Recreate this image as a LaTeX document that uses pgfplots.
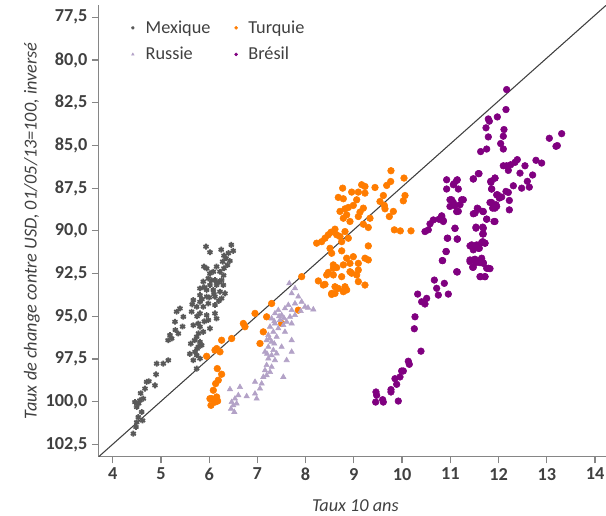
\documentclass[border=0pt]{standalone}
\usepackage{fontspec}
\setmainfont{Carlito}
\usepackage{pgfplots}
\pgfplotsset{compat=1.18}
\definecolor{mexc}{HTML}{595959}
\definecolor{turc}{HTML}{FF7C00}
\definecolor{rusc}{HTML}{B3A2C7}
\definecolor{brec}{HTML}{800080}
\definecolor{axc}{HTML}{868686}
\definecolor{txtc}{HTML}{404040}
\begin{document}
\begin{tikzpicture}
\begin{axis}[
  scale only axis, width=380.5pt, height=338.8pt,
  xmin=3.7097, xmax=14.228, ymin=76.78, ymax=103.22, y dir=reverse,
  axis x line*=bottom, axis y line*=left,
  axis line style={axc, line width=0.9pt},
  xtick={4,5,...,14}, ytick={77.5,80,82.5,85,87.5,90,92.5,95,97.5,100,102.5},
  tick align=outside, major tick length=5pt, tick style={axc, line width=0.9pt},
  /pgf/number format/assume math mode=true,
  tick label style={font=\fontsize{13.7}{16}\selectfont\bfseries, text=txtc},
  yticklabel style={/pgf/number format/.cd, fixed, fixed zerofill, precision=1, use comma},
  xlabel={Taux 10 ans},
  ylabel={Taux de change contre USD, 01/05/13=100, inversé},
  label style={font=\fontsize{13.7}{16}\selectfont\itshape, text=txtc},
  xlabel style={at={(axis description cs:0.506,-0.1087)}, anchor=center},
  ylabel style={at={(axis description cs:-0.1315,0.5)}, anchor=center},
  legend columns=2, legend cell align=left,
  legend style={draw=none, fill=none, at={(axis description cs:0.052,0.978)}, anchor=north west,
    font=\fontsize{13.7}{16}\selectfont, text=txtc,
    /tikz/every even column/.append style={column sep=15pt}, row sep=5pt},
  legend image code/.code={\path (-2pt,0pt) (7pt,0pt); \draw[#1] plot coordinates {(0pt,0pt)};},
  legend image post style={mark size=1.1pt},
  clip=true,
]
% Mexique
\addplot[only marks, mark=asterisk, mark size=2.2pt, line width=1.3pt, color=mexc] coordinates {
(5.935,90.92)(6.46,90.82)(6.50,91.17)(6.017,91.25)(6.308,91.45)(6.35,91.60)(6.28,91.80)(6.43,91.76)
(5.893,92.09)(6.155,92.09)(6.308,92.19)(6.017,92.49)(6.087,92.39)(6.225,92.39)(5.983,92.78)(6.121,92.88)
(6.259,92.88)(5.879,92.97)(6.017,93.17)(6.155,93.17)(6.294,93.17)(5.810,93.37)(5.948,93.46)(6.087,93.46)
(6.225,93.56)(6.328,93.66)(5.810,93.76)(5.948,93.85)(6.121,93.85)(6.259,93.95)(5.672,94.05)(5.810,94.15)
(5.983,94.25)(6.121,94.34)(5.879,94.44)(5.741,94.44)(5.395,94.54)(5.326,94.73)(5.637,94.73)(5.810,94.83)
(5.948,94.93)(6.121,94.83)(5.465,95.03)(5.292,95.32)(5.776,95.42)(5.672,95.52)(5.983,95.22)(6.155,95.13)
(5.810,95.61)(6.017,95.71)(5.879,95.91)(5.188,96.10)(5.361,96.01)(5.223,96.30)(5.741,96.20)(5.810,96.50)
(5.776,96.79)(5.845,96.69)(5.707,97.08)(5.741,97.28)(5.672,97.57)(5.810,97.47)(5.741,98.06)(4.912,97.77)
(5.050,97.77)(5.154,97.57)(4.704,98.84)(4.877,99.04)(4.670,99.23)(4.635,99.82)(4.462,100.02)(4.566,99.92)
(4.497,100.31)(4.601,100.60)(4.532,100.90)(4.483,101.48)(4.428,101.87)
(5.95,92.2)(6.05,92.9)(6.2,93.0)(6.1,93.7)(5.9,93.3)(6.3,92.6)(5.85,94.0)(6.0,93.9)(6.2,94.1)(5.75,95.0)
(5.9,95.3)(5.65,94.3)(6.4,91.3)(6.38,92.0)(6.25,91.1)(5.78,96.0)(5.7,96.4)(5.62,96.6)(5.6,97.2)(5.75,96.9)
(4.75,98.8)(4.9,98.4)(4.58,99.5)(4.54,100.1)(4.62,101.1)(4.5,101.2)(5.45,95.6)(5.3,95.8)(5.15,96.4)
};
\addlegendentry{Mexique}
% Turquie
\addplot[only marks, mark=*, mark size=2.5pt, color=turc] coordinates {
(7.918,92.68)(7.849,94.64)(7.296,94.25)(7.192,95.03)(6.951,94.83)(7.503,95.42)(7.123,95.91)(6.709,95.42)
(6.743,95.61)(6.467,96.30)(7.054,96.59)(6.259,96.40)(6.156,96.89)(6.225,97.08)(6.121,96.98)(5.948,97.34)
(6.169,98.06)(6.259,98.39)(6.190,98.74)(6.135,98.94)(6.087,99.33)(6.052,99.82)(6.156,99.72)(6.017,99.82)
(6.121,100.02)(6.038,100.21)(6.176,99.96)
(9.770,86.48)(10.040,86.91)(9.764,87.11)(9.681,87.34)(9.439,87.46)(9.162,87.30)(9.231,87.40)(8.768,87.50)
(8.955,87.73)(9.093,87.73)(9.231,87.79)(8.678,88.04)(8.782,88.12)(9.059,88.18)(10.061,87.93)(10.026,88.24)
(9.612,87.93)(9.542,88.28)(9.632,88.51)(9.646,88.71)(9.819,88.86)(9.736,89.16)(8.989,88.51)(8.886,88.63)
(8.817,88.71)(9.197,88.67)(9.128,88.90)(8.713,88.86)(9.093,89.16)(8.851,89.06)(8.782,89.26)(8.920,89.45)
(9.197,89.61)(9.300,89.80)(9.335,89.26)(9.840,89.94)(9.964,90.00)(10.185,90.00)(8.609,89.90)(8.526,90.08)
(8.471,90.23)(8.402,90.43)(8.229,90.72)(8.333,90.63)(8.644,90.23)(8.713,90.33)(8.817,90.04)(8.886,90.43)
(8.748,90.63)(8.506,91.02)(8.540,91.31)(8.748,91.17)(9.300,90.88)(8.851,91.60)(8.989,91.51)(9.231,91.60)
(9.300,91.70)(8.575,91.99)(8.644,92.15)(8.782,91.99)(8.920,91.90)(9.093,91.90)(8.471,92.43)(8.437,92.58)
(8.575,92.58)(8.748,92.68)(8.920,92.39)(9.093,92.29)(9.059,92.58)(9.093,92.97)(8.264,92.93)(8.402,93.13)
(8.609,93.27)(8.678,93.37)(8.817,93.27)(8.851,93.46)(8.782,93.56)(9.231,93.17)(8.540,93.72)(8.609,93.66)
(8.367,93.17)(8.575,92.19)(8.540,93.66)(8.955,92.48)
};
\addlegendentry{Turquie}
% Russie
\addplot[only marks, mark=triangle*, mark size=2.3pt, color=rusc] coordinates {
(7.662,93.07)(7.780,93.36)(7.711,93.66)(7.849,93.85)(7.918,94.15)(7.780,94.25)(7.642,94.34)(7.987,94.44)
(8.160,94.60)(7.572,94.54)(7.434,94.64)(7.711,94.64)(7.365,94.83)(7.503,94.93)(7.676,95.03)(7.780,94.93)
(7.296,95.13)(7.469,95.22)(7.607,95.32)(7.365,95.42)(7.538,95.52)(7.711,95.42)(7.262,95.61)(7.434,95.71)
(7.331,95.91)(7.572,95.91)(7.227,96.10)(7.400,96.20)(7.192,96.40)(7.296,96.49)(7.711,96.40)(7.503,96.79)
(7.227,96.79)(7.331,96.98)(7.158,97.08)(7.400,97.18)(7.296,97.28)(7.711,97.08)(7.227,97.47)(7.365,97.57)
(7.607,97.57)(7.192,97.86)(7.296,97.96)(7.158,98.16)(7.262,98.26)(7.192,98.45)(7.538,98.55)(7.123,98.55)
(7.089,98.94)(7.054,99.23)(6.951,98.84)(6.951,99.53)(6.985,99.82)(6.639,99.14)(6.432,99.27)(6.605,99.62)
(6.778,99.68)(6.536,99.82)(6.467,100.02)(6.501,100.21)(6.453,100.41)(6.522,100.60)(6.570,100.11)
(8.05,94.5)(7.9,94.7)(7.45,95.0)(7.55,95.1)(7.35,95.3)(7.25,96.3)(7.35,96.6)(7.2,97.2)
};
\addlegendentry{Russie}
% Bresil
\addplot[only marks, mark=*, mark size=2.5pt, color=brec] coordinates {
(10.924,87.01)(11.132,87.05)(11.063,87.30)(11.166,87.55)(10.924,87.55)(11.477,86.95)(11.595,86.65)(11.926,86.91)
(11.843,87.16)(11.857,87.55)(11.982,87.89)(12.065,88.02)(11.857,88.34)(11.961,88.57)(11.926,88.67)(11.581,88.73)
(11.685,88.87)(11.512,88.96)(11.754,89.32)(11.926,89.45)(10.993,88.18)(11.063,88.34)(11.201,88.47)(11.270,88.18)
(11.132,88.87)(10.821,89.12)(10.765,89.32)(10.855,89.45)(10.648,89.36)(10.579,89.59)(10.544,89.94)(10.475,90.04)
(11.097,89.86)(10.945,90.43)(11.145,90.47)(11.532,89.84)(11.685,89.84)(11.685,90.18)(11.408,90.88)(11.512,90.92)
(11.650,90.68)(11.719,90.72)(11.477,91.11)(11.581,91.02)(11.408,91.70)(11.512,91.66)(11.650,91.60)(11.477,92.13)
(11.615,91.86)(11.685,91.90)(11.754,92.19)(11.823,92.21)(11.615,92.68)(11.719,92.68)(10.917,91.21)(10.834,91.74)
(11.145,92.41)(10.669,92.88)(10.717,93.36)(10.876,93.07)(10.959,93.70)(10.752,93.76)(10.323,93.70)(10.406,94.15)
(10.510,93.95)(10.475,94.28)(10.268,95.03)(10.254,95.73)(10.392,97.04)(10.129,97.63)(10.150,97.81)(10.026,98.20)
(9.991,98.20)(9.957,98.55)(9.853,98.65)(9.888,98.98)(9.770,99.29)(9.770,99.43)(9.459,99.43)(9.473,99.62)
(9.452,100.02)(9.597,99.88)(9.611,100.02)(9.922,99.96)
(12.168,81.73)(12.154,82.90)(11.975,83.33)(11.788,83.45)(11.809,83.58)(11.740,83.97)(12.113,84.07)(11.788,84.50)
(12.044,84.89)(12.099,84.46)(12.099,85.21)(11.754,85.21)(11.629,85.36)(13.053,84.58)(13.309,84.31)(13.219,85.01)
(13.191,85.05)(12.389,85.83)(12.341,85.99)(12.251,86.13)(12.168,86.19)(12.099,86.19)(12.203,86.46)(12.548,86.19)
(12.776,85.87)(12.894,86.03)(12.445,86.62)(12.707,86.73)(12.597,87.10)(12.638,87.44)(12.479,87.50)(12.307,87.36)
(12.154,87.69)(12.203,87.75)(12.224,88.22)(12.224,88.77)(11.581,86.65)(11.477,86.97)(11.926,86.91)(11.837,87.10)
(11.857,87.55)(11.961,87.89)(12.016,88.08)(11.947,88.47)(11.823,88.34)(11.878,88.67)(11.076,87.24)(11.145,87.01)
(11.028,88.18)(10.993,88.57)(11.097,88.53)(11.235,88.18)(11.166,88.86)(11.477,89.00)(11.560,88.67)(11.671,88.86)
(11.754,89.31)(11.906,89.45)(11.532,89.78)(11.671,89.78)(11.671,90.18)(11.671,90.63)(11.719,90.72)(11.546,90.82)
(11.443,90.82)(11.602,91.02)(11.477,91.70)(11.408,91.80)(11.532,91.86)(11.629,91.70)(11.685,91.86)(11.463,92.13)
(11.788,92.19)(11.629,92.68)(11.719,92.68)(11.097,89.84)(10.938,90.43)(11.145,90.49)(10.910,91.21)(10.841,91.74)
(11.132,92.39)(10.821,89.16)(10.855,89.39)
};
\addlegendentry{Brésil}
% diagonal
\addplot[forget plot, no marks, color=txtc, line width=0.8pt] coordinates {(3.7097,103.22) (14.228,76.80)};
\end{axis}
\pgfresetboundingbox
\path[use as bounding box] (current axis.south west) ++(-74pt,-43.7pt) rectangle ++(454.5pt,386.25pt);
\end{tikzpicture}
\end{document}
